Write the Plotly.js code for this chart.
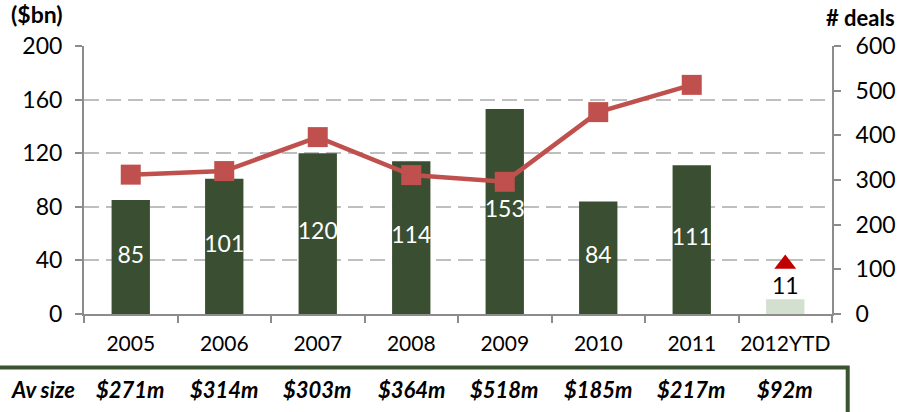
<!DOCTYPE html>
<html>
<head>
<meta charset="utf-8">
<script src="https://cdn.plot.ly/plotly-3.0.1.min.js"></script>
<style>
  body { margin: 0; background: #fff; }
  #chart { width: 899px; height: 412px; }
</style>
</head>
<body>
<div id="chart"></div>
<script>
const years = ["2005", "2006", "2007", "2008", "2009", "2010", "2011", "2012YTD"];
const valueBn = [85, 101, 120, 114, 153, 84, 111, 11];
const deals = [312, 320, 396, 311, 296, 452, 513];
const ytdDeals = 112;
const avSize = ["$271m", "$314m", "$303m", "$364m", "$518m", "$185m", "$217m", "$92m"];

const dark = "#3a4f31";
const light = "#d3e0d0";
const red = "#c0504d";
const font = "Lato, 'Noto Sans', sans-serif";

// last bar is year-to-date, lighter colour and label above
const barColors = years.map((y, i) => i === years.length - 1 ? light : dark);
const labelY = valueBn.map((v, i) => i === valueBn.length - 1 ? v : v / 2);
const labelPos = valueBn.map((v, i) => i === valueBn.length - 1 ? "top center" : "middle center");
const labelColor = valueBn.map((v, i) => i === valueBn.length - 1 ? "#000" : "#fff");

const traces = [
  {
    x: years, y: valueBn, type: "bar",
    marker: { color: barColors },
    hoverinfo: "skip"
  },
  {
    x: years, y: labelY, type: "scatter", mode: "text",
    text: valueBn.map(String), textposition: labelPos,
    textfont: { family: font, size: 23, color: labelColor },
    cliponaxis: false, hoverinfo: "skip"
  },
  {
    x: years.slice(0, deals.length), y: deals, yaxis: "y2",
    type: "scatter", mode: "lines+markers",
    line: { color: red, width: 4.5 },
    marker: { symbol: "square", size: 20, color: red }
  },
  {
    x: [years[years.length - 1]], y: [ytdDeals], yaxis: "y2",
    type: "scatter", mode: "markers",
    marker: { symbol: "triangle-up", size: 19, color: "#c00000" }
  }
];

const annotations = [
  { text: "<b>($bn)</b>", xref: "paper", yref: "paper", x: -0.1, y: 1.118,
    xanchor: "left", yanchor: "middle", showarrow: false,
    font: { family: font, size: 23, color: "#000" } },
  { text: "<b># deals</b>", xref: "paper", yref: "paper", x: 1.087, y: 1.108,
    xanchor: "right", yanchor: "middle", showarrow: false,
    font: { family: font, size: 22, color: "#000" } },
  { text: "<b><i>Av size</i></b>", xref: "paper", yref: "paper", x: -0.1, y: -0.28,
    xanchor: "left", yanchor: "middle", showarrow: false,
    font: { family: font, size: 22, color: "#000" } }
];
// category index, not name: "2005" would be read as a number
avSize.forEach((s, i) => {
  annotations.push({
    text: "<b><i>" + s + "</i></b>", xref: "x", yref: "paper", x: i, y: -0.28,
    xanchor: "center", yanchor: "middle", showarrow: false,
    font: { family: font, size: 22, color: "#000" }
  });
});

const layout = {
  width: 899, height: 412,
  margin: { l: 84, r: 67, t: 46, b: 98 },
  paper_bgcolor: "#fff", plot_bgcolor: "#fff",
  showlegend: false,
  bargap: 0.59,
  font: { family: font, size: 20, color: "#000" },
  xaxis: {
    type: "category", range: [-0.5, years.length - 0.5],
    showline: true, linecolor: "#8c8c8c", linewidth: 2,
    ticks: "outside", tickson: "boundaries", ticklen: 7, tickwidth: 2, tickcolor: "#8c8c8c",
    ticklabelstandoff: 10, tickangle: 0,
    tickfont: { family: font, size: 21 },
    showgrid: false
  },
  yaxis: {
    range: [0, 200], dtick: 40,
    showline: true, linecolor: "#8c8c8c", linewidth: 2,
    ticks: "outside", ticklen: 7, tickwidth: 2, tickcolor: "#8c8c8c",
    ticklabelstandoff: 8,
    tickfont: { family: font, size: 23 },
    showgrid: true, gridcolor: "#bfbfbf", gridwidth: 2, griddash: "15px,7px",
    zeroline: false
  },
  yaxis2: {
    overlaying: "y", side: "right",
    range: [0, 600], dtick: 100,
    showline: true, linecolor: "#8c8c8c", linewidth: 2,
    ticks: "outside", ticklen: 7, tickwidth: 2, tickcolor: "#8c8c8c",
    ticklabelstandoff: 10,
    tickfont: { family: font, size: 23 },
    showgrid: false, zeroline: false
  },
  shapes: [
    { type: "rect", xref: "paper", yref: "paper",
      x0: -0.125, x1: 1.021, y0: -0.5, y1: -0.2,
      line: { color: "#3a5431", width: 4 }, fillcolor: "rgba(0,0,0,0)" }
  ],
  annotations: annotations
};

Plotly.newPlot("chart", traces, layout, { displayModeBar: false, staticPlot: true });
</script>
</body>
</html>
